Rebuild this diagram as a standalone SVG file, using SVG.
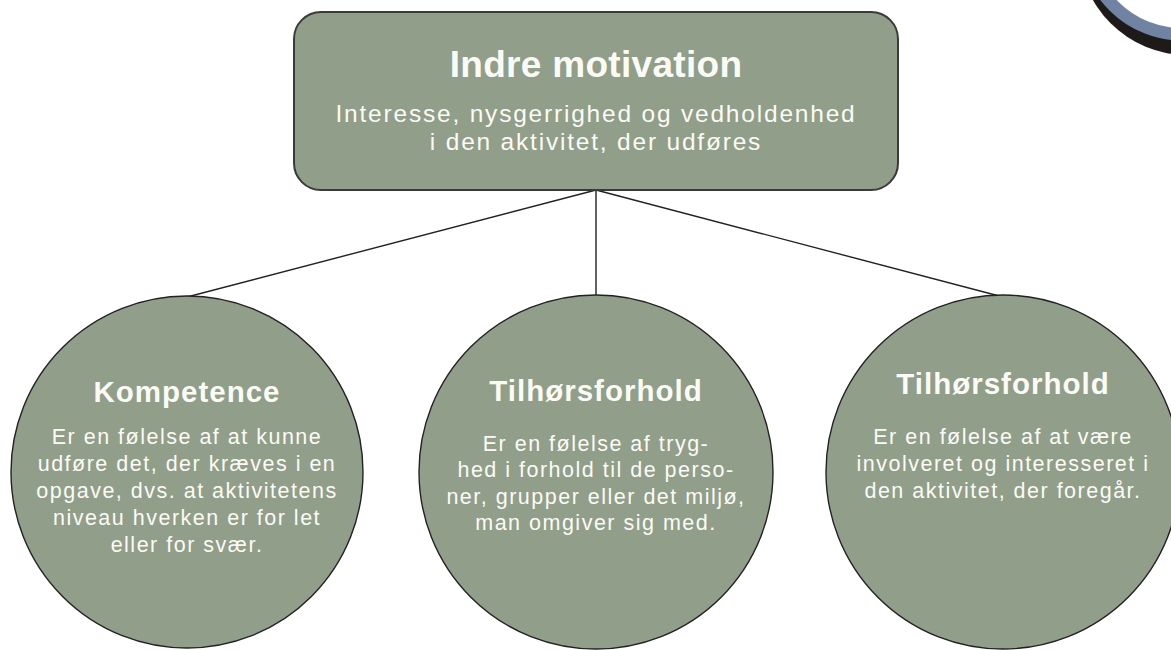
<svg xmlns="http://www.w3.org/2000/svg" width="1171" height="650" viewBox="0 0 1171 650">
<style>
.node{fill:#919e89;stroke:#222;stroke-width:1.4}
.box{fill:#919e89;stroke:#3a3a3a;stroke-width:2}
.conn{stroke:#222;stroke-width:1.4;fill:none}
text{font-family:"Liberation Sans",Arial,sans-serif;fill:#fbfbf6;text-anchor:middle}
.h1{font-size:37px;font-weight:bold;letter-spacing:0.3px}
.sub{font-size:24.5px;letter-spacing:1.8px}
.h2{font-size:29.5px;font-weight:bold;letter-spacing:1px}
.body{font-size:21.5px;letter-spacing:1.5px}
</style>
<rect width="1171" height="650" fill="#fff"/>
<g id="decor">
<circle cx="1187" cy="-53" r="108" fill="#1e1a1a"/>
<circle cx="1182" cy="-62" r="96.3" fill="#fff" stroke="#7083a3" stroke-width="12.5"/>
</g>
<g id="connectors">
<line class="conn" x1="596" y1="190" x2="187" y2="297"/>
<line class="conn" x1="596" y1="190" x2="596" y2="297"/>
<line class="conn" x1="596" y1="190" x2="1003" y2="297"/>
</g>
<g id="top">
<rect class="box" x="294" y="12" width="604" height="178" rx="27"/>
<text class="h1" x="596" y="77">Indre motivation</text>
<text class="sub" x="596" y="121.5">Interesse, nysgerrighed og vedholdenhed</text>
<text class="sub" x="596" y="150">i den aktivitet, der udføres</text>
</g>
<g id="kompetence">
<circle class="node" cx="187" cy="472" r="176"/>
<text class="h2" x="187" y="401.5">Kompetence</text>
<text class="body" x="187" y="444">Er en følelse af at kunne</text>
<text class="body" x="187" y="471">udføre det, der kræves i en</text>
<text class="body" x="187" y="498">opgave, dvs. at aktivitetens</text>
<text class="body" x="187" y="525">niveau hverken er for let</text>
<text class="body" x="187" y="552">eller for svær.</text>
</g>
<g id="tilhoer1">
<circle class="node" cx="596" cy="472" r="177"/>
<text class="h2" x="596" y="400.5">Tilhørsforhold</text>
<text class="body" x="596" y="450.5">Er en følelse af tryg-</text>
<text class="body" x="596" y="477">hed i forhold til de perso-</text>
<text class="body" x="596" y="503.5">ner, grupper eller det miljø,</text>
<text class="body" x="596" y="530">man omgiver sig med.</text>
</g>
<g id="tilhoer2">
<circle class="node" cx="1003" cy="472" r="177"/>
<text class="h2" x="1003" y="394">Tilhørsforhold</text>
<text class="body" x="1003" y="444">Er en følelse af at være</text>
<text class="body" x="1003" y="471">involveret og interesseret i</text>
<text class="body" x="1003" y="498">den aktivitet, der foregår.</text>
</g>
</svg>
